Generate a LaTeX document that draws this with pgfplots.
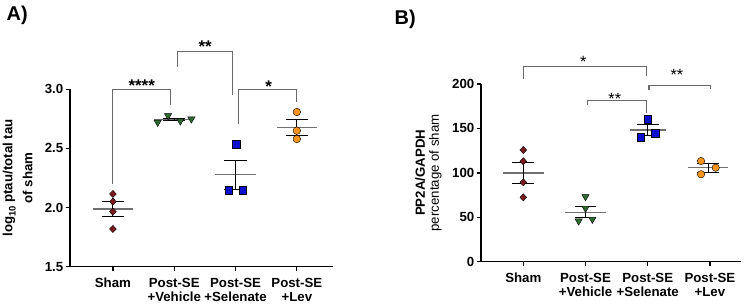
\documentclass[border=0pt]{standalone}
\usepackage{fontspec}
\setmainfont{Liberation Sans}
\usepackage{pgfplots}
\pgfplotsset{compat=1.18}
\definecolor{shamc}{HTML}{7B1A1F}
\definecolor{vehc}{HTML}{2E6B30}
\definecolor{selc}{HTML}{0C10CC}
\definecolor{levc}{HTML}{F7941D}
\definecolor{brk}{HTML}{6A6A6A}
\definecolor{meanc}{HTML}{707070}
\newcommand{\lbl}{\fontsize{13.3}{14.3}\selectfont\bfseries}
\newcommand{\starA}{\fontsize{17}{17}\selectfont\bfseries}
\newcommand{\starB}{\fontsize{16.3}{16.3}\selectfont}
\pgfplotsset{panel/.style={
  scale only axis, clip=false, axis lines*=left,
  axis line style={line width=1.5bp, black},
  tick style={line width=1.3bp, black},
  major tick length=4.5bp, tick align=outside,
  xtick={0,1,2,3},
  xticklabels={Sham, Post-SE\\+Vehicle, Post-SE\\+Selenate, Post-SE\\+Lev},
  xticklabel style={align=center, font=\lbl, inner sep=0pt, anchor=north, yshift=-6.5bp},
  yticklabel style={font=\lbl, inner sep=0pt, anchor=east, xshift=-2bp},
  /pgf/number format/assume math mode=true,
},
bracket/.style={brk, line width=1.1bp},
meanl/.style={meanc, line width=1.5bp},
seml/.style={black, line width=1bp},
pts/.style={only marks, mark options={draw=black!75, line width=0.5bp}},
}
\begin{document}
\begin{tikzpicture}[x=1bp,y=1bp]
\useasboundingbox (0,0) rectangle (750,303);
\node[anchor=base west, inner sep=0pt, font=\fontsize{20}{20}\selectfont\bfseries] at (6.5,282.5) {A)};
\node[anchor=base west, inner sep=0pt, font=\fontsize{20}{20}\selectfont\bfseries] at (394.5,278) {B)};
% ---------------- Panel A ----------------
\begin{axis}[panel, at={(70bp,36.3bp)}, anchor=south west,
  width=263bp, height=177.4bp,
  xmin=-0.70, xmax=3.59, ymin=1.5, ymax=3.0,
  ytick={1.5,2.0,2.5,3.0},
  /pgf/number format/fixed, /pgf/number format/fixed zerofill, /pgf/number format/precision=1,
  ylabel={log{\raisebox{-0.45ex}{\fontsize{9.5}{9.5}\selectfont 10}} ptau/total tau\\of sham},
  ylabel style={font=\fontsize{13.3}{20}\selectfont\bfseries, align=center, at={(axis description cs:-0.256,0.5)}, anchor=north, inner sep=0pt},
]
% significance brackets
\addplot[bracket] coordinates {(0,2.2) (0,3.0) (0.945,3.0) (0.945,2.865)};
\addplot[bracket] coordinates {(1.055,3.19) (1.055,3.318) (1.945,3.318) (1.945,2.952)};
\addplot[bracket] coordinates {(2.055,2.707) (2.055,3.0) (3,3.0) (3,2.895)};
\node[anchor=base, inner sep=0pt, font=\starA] at (axis cs:0.47,2.982) {****};
\node[anchor=base, inner sep=0pt, font=\starA] at (axis cs:1.506,3.309) {**};
\node[anchor=base, inner sep=0pt, font=\starA] at (axis cs:2.54,2.974) {*};
% means
\addplot[meanl] coordinates {(-0.33,1.988) (0.33,1.988)};
\addplot[meanl] coordinates {(0.67,2.745) (1.33,2.745)};
\addplot[meanl] coordinates {(1.67,2.278) (2.33,2.278)};
\addplot[meanl] coordinates {(2.67,2.679) (3.33,2.679)};
% SEM
\addplot[seml] coordinates {(0,1.926) (0,2.05)};
\addplot[seml] coordinates {(-0.18,1.926) (0.18,1.926)};
\addplot[seml] coordinates {(-0.18,2.05) (0.18,2.05)};
\addplot[seml] coordinates {(1,2.733) (1,2.757)};
\addplot[seml] coordinates {(0.82,2.733) (1.18,2.733)};
\addplot[seml] coordinates {(0.82,2.757) (1.18,2.757)};
\addplot[seml] coordinates {(2,2.149) (2,2.40)};
\addplot[seml] coordinates {(1.82,2.40) (2.18,2.40)};
\addplot[seml] coordinates {(1.82,2.149) (2.18,2.149)};
\addplot[seml] coordinates {(3,2.61) (3,2.746)};
\addplot[seml] coordinates {(2.82,2.61) (3.18,2.61)};
\addplot[seml] coordinates {(2.82,2.746) (3.18,2.746)};
% points
\addplot[pts, mark=diamond*, mark size=3.6bp, mark options={fill=shamc, xscale=1.25}] coordinates {(0,2.115) (0,2.05) (0,1.965) (0,1.819)};
\addplot[pts, mark=triangle*, mark size=4.2bp, mark options={fill=vehc, rotate=180}] coordinates {(0.73,2.721) (0.9,2.777) (1.1,2.732) (1.28,2.749)};
\addplot[pts, mark=square*, mark size=3.8bp, mark options={fill=selc}] coordinates {(2.007,2.535) (1.886,2.149) (2.12,2.149)};
\addplot[pts, mark=*, mark size=3.8bp, mark options={fill=levc}] coordinates {(3,2.808) (3,2.65) (3,2.58)};
\end{axis}
% ---------------- Panel B ----------------
\begin{axis}[panel, at={(481bp,41.3bp)}, anchor=south west,
  width=259.7bp, height=177.7bp,
  xmin=-0.68, xmax=3.495, ymin=0, ymax=200,
  ytick={0,50,100,150,200},
  ylabel={PP2A/GAPDH\\{\mdseries percentage of sham}},
  ylabel style={font=\fontsize{13.3}{14}\selectfont\bfseries, align=center, at={(axis description cs:-0.254,0.5)}, anchor=north, inner sep=0pt},
]
\addplot[bracket] coordinates {(0,205.6) (0,219.5) (1.98,219.5) (1.98,209.3)};
\addplot[bracket] coordinates {(1.03,176.4) (1.03,181.6) (1.98,181.6) (1.98,167)};
\addplot[bracket] coordinates {(2.02,193.2) (2.02,198.1) (3.01,198.1) (3.01,194)};
\node[anchor=base, inner sep=0pt, font=\starB] at (axis cs:0.965,218.5) {*};
\node[anchor=base, inner sep=0pt, font=\starB] at (axis cs:2.47,204.2) {**};
\node[anchor=base, inner sep=0pt, font=\starB] at (axis cs:1.47,177.2) {**};
% means
\addplot[meanl] coordinates {(-0.33,100) (0.33,100)};
\addplot[meanl] coordinates {(0.67,55.6) (1.33,55.6)};
\addplot[meanl] coordinates {(1.71,148.4) (2.29,148.4)};
\addplot[meanl] coordinates {(2.65,105.8) (3.29,105.8)};
% SEM
\addplot[seml] coordinates {(0,87.8) (0,111.8)};
\addplot[seml] coordinates {(-0.175,87.8) (0.175,87.8)};
\addplot[seml] coordinates {(-0.175,111.8) (0.175,111.8)};
\addplot[seml] coordinates {(1,49.8) (1,62)};
\addplot[seml] coordinates {(0.825,49.8) (1.175,49.8)};
\addplot[seml] coordinates {(0.825,62) (1.175,62)};
\addplot[seml] coordinates {(2,142.4) (2,154.8)};
\addplot[seml] coordinates {(1.825,142.4) (2.175,142.4)};
\addplot[seml] coordinates {(1.825,154.8) (2.175,154.8)};
\addplot[seml] coordinates {(2.97,100.9) (2.97,110.3)};
\addplot[seml] coordinates {(2.795,100.9) (3.145,100.9)};
\addplot[seml] coordinates {(2.795,110.3) (3.145,110.3)};
% points
\addplot[pts, mark=diamond*, mark size=3.6bp, mark options={fill=shamc, xscale=1.25}] coordinates {(0,125.7) (0,113) (0,89.3) (0,72.4)};
\addplot[pts, mark=triangle*, mark size=4.2bp, mark options={fill=vehc, rotate=180}] coordinates {(1,73.2) (1,60.1) (0.89,45.8) (1.11,47.7)};
\addplot[pts, mark=square*, mark size=3.7bp, mark options={fill=selc}] coordinates {(2,160.6) (1.89,140) (2.12,144.5)};
\addplot[pts, mark=*, mark size=3.7bp, mark options={fill=levc}] coordinates {(2.857,113.3) (2.857,98.4) (3.093,105.8)};
\end{axis}
\end{tikzpicture}
\end{document}
